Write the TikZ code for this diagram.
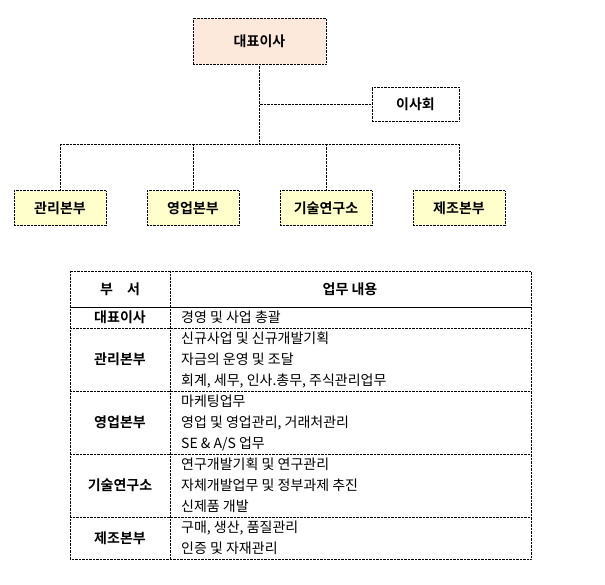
\documentclass[tikz,border=0pt]{standalone}
\usepackage{fontspec}
\setmainfont{Noto Sans CJK KR}[BoldFont={Noto Sans CJK KR Bold}]
\usetikzlibrary{positioning}
\definecolor{peach}{HTML}{FCE9DC}
\definecolor{paleyellow}{HTML}{FFFFCC}

\begin{document}
\begin{tikzpicture}[x=1pt,y=-1pt,
  box/.style={draw,densely dotted,minimum height=35pt,font=\bfseries\fontsize{14}{16}\selectfont},
  dept/.style={box,fill=paleyellow,minimum width=92pt},
  link/.style={densely dotted},
  cell/.style={anchor=west,font=\fontsize{14}{21}\selectfont,align=left,inner sep=0pt},
  head/.style={font=\bfseries\fontsize{14}{16}\selectfont}]
\useasboundingbox (0,0) rectangle (605,584);

\node[box,fill=peach,minimum width=133pt,minimum height=46pt] (ceo) at (259.5,41) {대표이사};
\node[box,minimum width=87pt,minimum height=34pt]             (board) at (415.5,104) {이사회};
\node[dept] (mgmt)  at (60,208)  {관리본부};
\node[dept] (sales) at (193,208) {영업본부};
\node[dept] (lab)   at (326,208) {기술연구소};
\node[dept] (mfg)   at (459,208) {제조본부};

\coordinate (hub)  at (259.5,144);
\coordinate (tap)  at (259.5,104);

\draw[link] (ceo.south) -- (hub);
\draw[link] (tap) -- (board.west);
\draw[link] (mgmt.north) |- (hub) -| (mfg.north);
\draw[link] (sales.north) -- (sales.north |- hub);
\draw[link] (lab.north) -- (lab.north |- hub);

% table
\draw[link] (70,271) rectangle (531,559);
\draw[link] (170,271) -- (170,559);
\draw (70,307) -- (531,307);
\foreach \y in {328,391,454,517}
  \draw[link] (70,\y) -- (531,\y);

\node[head] (h1) at (120,289) {부\quad 서};
\node[head] (h2) at (350,289) {업무 내용};

\node[head] (r1) at (120,317.5) {대표이사};
\node[head] (r2) at (120,359.5) {관리본부};
\node[head] (r3) at (120,422.5) {영업본부};
\node[head] (r4) at (120,485.5) {기술연구소};
\node[head] (r5) at (120,538)   {제조본부};

\node[cell] (d1) at (181,317.5) {경영 및 사업 총괄};
\node[cell] (d2) at (181,359.5) {신규사업 및 신규개발기획\\자금의 운영 및 조달\\회계, 세무, 인사.총무, 주식관리업무};
\node[cell] (d3) at (181,422.5) {마케팅업무\\영업 및 영업관리, 거래처관리\\SE \& A/S 업무};
\node[cell] (d4) at (181,485.5) {연구개발기획 및 연구관리\\자체개발업무 및 정부과제 추진\\신제품 개발};
\node[cell] (d5) at (181,538)   {구매, 생산, 품질관리\\인증 및 자재관리};
\end{tikzpicture}
\end{document}
